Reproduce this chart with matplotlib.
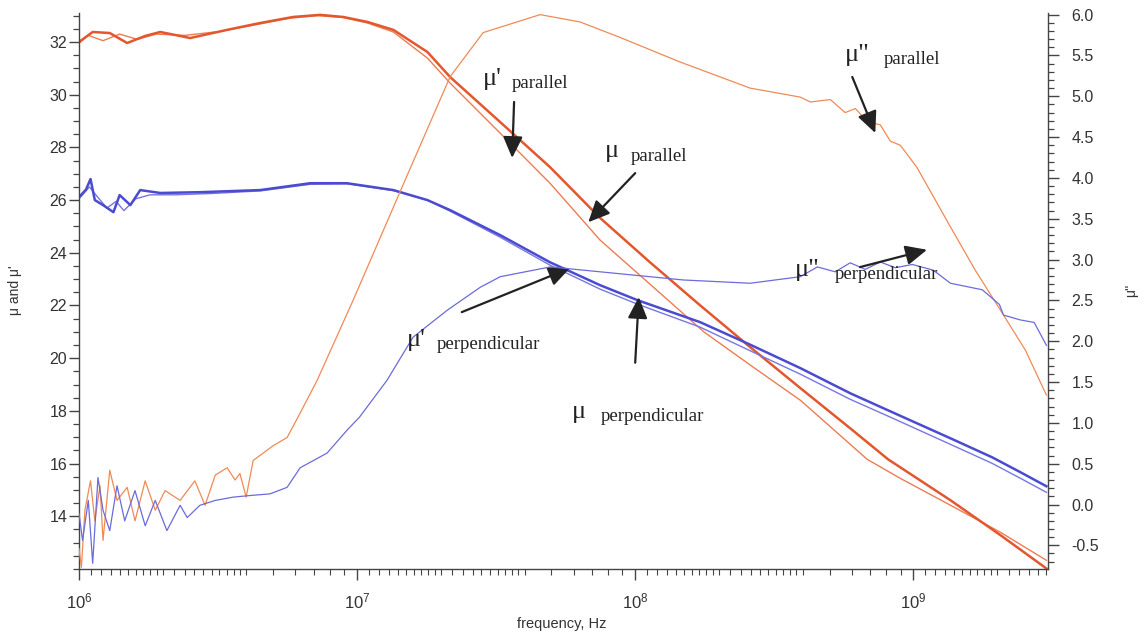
import numpy as np
import matplotlib.pyplot as plt
from matplotlib.ticker import LogLocator, MultipleLocator, LogFormatterMathtext, NullFormatter

plt.rcParams['font.family'] = ['Liberation Sans', 'DejaVu Sans']
plt.rcParams['mathtext.fontset'] = 'custom'
plt.rcParams['mathtext.rm'] = 'Liberation Sans'
plt.rcParams['mathtext.it'] = 'Liberation Sans:italic'

# mu' parallel (thick red), left axis
f_mu1_par = [1.00e6, 1.12e6, 1.29e6, 1.49e6, 1.73e6, 1.96e6, 2.51e6, 3.41e6, 4.48e6, 5.89e6,
             7.36e6, 8.91e6, 1.09e7, 1.35e7, 1.79e7, 2.16e7, 3.27e7, 4.94e7, 7.48e7, 1.13e8,
             1.71e8, 2.57e8, 3.93e8, 5.93e8, 8.12e8, 1.36e9, 2.06e9, 3.01e9]
mu1_par = [32.00, 32.38, 32.34, 31.96, 32.23, 32.38, 32.15, 32.46, 32.72, 32.95,
           33.03, 32.95, 32.76, 32.46, 31.62, 30.67, 28.96, 27.25, 25.32, 23.64,
           22.01, 20.45, 18.86, 17.34, 16.16, 14.61, 13.28, 12.02]

# mu parallel (thin red), left axis
f_mu_par = [1.00e6, 1.08e6, 1.22e6, 1.40e6, 1.62e6, 1.90e6, 2.40e6, 3.20e6, 4.30e6, 5.70e6,
            7.20e6, 8.90e6, 1.09e7, 1.35e7, 1.79e7, 2.16e7, 3.27e7, 4.94e7, 7.48e7, 1.13e8,
            1.77e8, 2.60e8, 3.93e8, 6.83e8, 8.98e8, 1.36e9, 2.06e9, 3.01e9]
mu_par = [31.95, 32.25, 32.05, 32.30, 32.10, 32.30, 32.25, 32.40, 32.65, 32.90,
          33.00, 32.93, 32.72, 32.38, 31.39, 30.44, 28.54, 26.64, 24.48, 22.81,
          20.99, 19.73, 18.40, 16.16, 15.44, 14.42, 13.39, 12.33]

# mu' perpendicular (thick blue), left axis
f_mu1_perp = [1.00e6, 1.06e6, 1.10e6, 1.14e6, 1.22e6, 1.33e6, 1.40e6, 1.53e6, 1.66e6, 1.96e6,
              2.72e6, 4.48e6, 6.78e6, 9.20e6, 1.35e7, 1.79e7, 2.16e7, 3.27e7, 4.94e7, 7.48e7,
              1.02e8, 1.71e8, 2.57e8, 3.93e8, 5.93e8, 8.12e8, 1.36e9, 1.92e9, 2.43e9, 3.01e9]
mu1_perp = [26.11, 26.40, 26.80, 26.00, 25.81, 25.54, 26.19, 25.81, 26.38, 26.27,
            26.30, 26.38, 26.64, 26.64, 26.38, 26.00, 25.62, 24.67, 23.64, 22.77,
            22.20, 21.37, 20.53, 19.62, 18.67, 18.02, 16.96, 16.24, 15.67, 15.14]

# mu perpendicular (thin blue), left axis
f_mu_perp = [1.00e6, 1.04e6, 1.09e6, 1.17e6, 1.26e6, 1.36e6, 1.45e6, 1.60e6, 1.80e6, 2.20e6,
             3.00e6, 4.50e6, 6.80e6, 9.20e6, 1.35e7, 1.79e7, 2.16e7, 3.27e7, 4.94e7, 7.48e7,
             1.02e8, 1.71e8, 2.57e8, 3.93e8, 5.93e8, 8.12e8, 1.36e9, 1.92e9, 2.43e9, 3.01e9]
mu_perp = [26.05, 26.25, 26.50, 26.10, 25.70, 25.95, 25.60, 26.05, 26.20, 26.20,
           26.25, 26.35, 26.60, 26.62, 26.36, 26.00, 25.58, 24.59, 23.53, 22.62,
           22.05, 21.18, 20.30, 19.39, 18.44, 17.80, 16.73, 16.01, 15.44, 14.91]

# mu'' parallel (orange), right axis
f_mu2_par = [1.00e6, 1.02e6, 1.05e6, 1.10e6, 1.14e6, 1.19e6, 1.22e6, 1.29e6, 1.37e6, 1.49e6,
             1.59e6, 1.73e6, 1.88e6, 2.04e6, 2.31e6, 2.61e6, 2.84e6, 3.09e6, 3.41e6, 3.64e6,
             3.79e6, 3.99e6, 4.23e6, 4.99e6, 5.60e6, 6.24e6, 7.18e6, 9.67e6, 1.50e7, 2.16e7,
             2.84e7, 4.55e7, 6.34e7, 8.83e7, 1.45e8, 2.59e8, 3.92e8, 4.26e8, 5.03e8, 5.69e8,
             6.19e8, 6.83e8, 7.61e8, 8.27e8, 8.98e8, 1.03e9, 1.36e9, 1.67e9, 2.04e9, 2.53e9,
             3.01e9]
mu2_par = [-0.54, -0.77, -0.07, 0.29, -0.20, 0.23, -0.44, 0.42, 0.05, 0.21,
           -0.20, 0.29, -0.07, 0.17, 0.05, 0.29, -0.01, 0.36, 0.45, 0.30,
           0.38, 0.09, 0.54, 0.72, 0.82, 1.12, 1.52, 2.50, 4.00, 5.24,
           5.78, 6.00, 5.91, 5.72, 5.42, 5.10, 4.99, 4.93, 4.96, 4.80,
           4.85, 4.69, 4.65, 4.45, 4.40, 4.13, 3.40, 2.87, 2.40, 1.89,
           1.34]

# mu'' perpendicular (blue), right axis
f_mu2_perp = [1.00e6, 1.03e6, 1.08e6, 1.12e6, 1.17e6, 1.22e6, 1.29e6, 1.37e6, 1.46e6, 1.59e6,
              1.73e6, 1.88e6, 2.07e6, 2.31e6, 2.45e6, 2.72e6, 3.09e6, 3.58e6, 4.12e6, 4.86e6,
              5.60e6, 6.24e6, 7.80e6, 9.20e6, 1.02e7, 1.28e7, 1.59e7, 2.11e7, 2.77e7, 3.27e7,
              4.95e7, 7.48e7, 1.49e8, 2.59e8, 3.92e8, 4.52e8, 5.24e8, 5.93e8, 6.72e8, 7.61e8,
              8.62e8, 9.92e8, 1.18e9, 1.36e9, 1.77e9, 2.04e9, 2.11e9, 2.43e9, 2.72e9, 3.01e9]
mu2_perp = [-0.11, -0.44, 0.05, -0.72, 0.33, -0.07, -0.32, 0.23, -0.20, 0.17,
            -0.26, 0.05, -0.32, -0.01, -0.16, -0.01, 0.05, 0.09, 0.11, 0.13,
            0.21, 0.45, 0.63, 0.91, 1.07, 1.52, 2.05, 2.38, 2.66, 2.79,
            2.91, 2.85, 2.75, 2.71, 2.79, 2.91, 2.85, 2.96, 2.88, 2.97,
            2.90, 2.94, 2.87, 2.71, 2.63, 2.45, 2.32, 2.26, 2.23, 1.95]

RED = '#e4572e'
RED_THIN = '#ee7c52'
ORANGE = '#f08a55'
BLUE = '#4b4bd1'
BLUE_THIN = '#7777e0'
BLUE_2 = '#6b6bdc'
INK = '#222222'
AXC = '#444444'

fig = plt.figure(figsize=(11.44, 6.36), dpi=100)
ax = fig.add_axes([79 / 1144, 1 - 569 / 636, 969 / 1144, 556 / 636])
ax2 = ax.twinx()

ax.plot(f_mu_par, mu_par, color=RED_THIN, lw=1.0)
ax.plot(f_mu1_par, mu1_par, color=RED, lw=1.8)
ax.plot(f_mu_perp, mu_perp, color=BLUE_THIN, lw=1.0)
ax.plot(f_mu1_perp, mu1_perp, color=BLUE, lw=1.8)
ax2.plot(f_mu2_par, mu2_par, color=ORANGE, lw=0.9)
ax2.plot(f_mu2_perp, mu2_perp, color=BLUE_2, lw=0.9)

ax.set_xscale('log')
ax.set_xlim(1e6, 3.05e9)
ax.set_ylim(12.0, 33.1)
ax2.set_ylim(-0.79, 6.02)

ax.yaxis.set_minor_locator(MultipleLocator(0.5))
ax2.yaxis.set_minor_locator(MultipleLocator(0.1))
ax2.yaxis.set_major_formatter(plt.FuncFormatter(lambda v, p: f'{v:.1f}'))
ax.set_yticks(np.arange(14, 33, 2))
ax2.set_yticks(np.arange(-0.5, 6.01, 0.5))

subs = [1.1, 1.2, 1.3, 1.4, 1.5, 1.6, 1.7, 1.8, 1.9, 2.0, 2.2, 2.4, 2.6, 2.8,
        3.0, 3.2, 3.4, 3.6, 3.8, 4.0, 5.0, 6.0, 7.0, 8.0, 9.0]
ax.xaxis.set_major_locator(LogLocator(base=10, numticks=10))
ax.xaxis.set_minor_locator(LogLocator(base=10, subs=subs, numticks=40))
ax.xaxis.set_major_formatter(LogFormatterMathtext())
ax.xaxis.set_minor_formatter(NullFormatter())

for a in (ax, ax2):
    a.spines['top'].set_visible(False)
    for s in a.spines.values():
        s.set_color(AXC)
        s.set_linewidth(1.0)
ax.spines['right'].set_visible(False)
ax2.spines['left'].set_visible(False)
ax2.spines['bottom'].set_visible(False)

ax.tick_params(axis='y', which='major', direction='out', length=7, width=1, color=AXC,
               labelsize=11.5, labelcolor='#333333', pad=1.5)
ax.tick_params(axis='y', which='minor', direction='out', length=4, width=0.9, color=AXC)
ax.tick_params(axis='x', which='major', direction='out', length=8, width=1, color=AXC,
               labelsize=12, labelcolor='#333333', pad=8)
ax.tick_params(axis='x', which='minor', direction='out', length=4, width=0.8, color=AXC)
ax2.tick_params(axis='y', which='major', direction='out', length=8, width=1, color=AXC,
                labelsize=11.5, labelcolor='#333333', pad=9)
ax2.tick_params(axis='y', which='minor', direction='out', length=4, width=0.9, color=AXC)

fig.text(15 / 1144, 1 - 290 / 636, "\u03bc and \u03bc'", rotation=90, ha='center', va='center',
         fontsize=10, color='#333333')
fig.text(1131 / 1144, 1 - 290 / 636, "\u03bc''", rotation=90, ha='center', va='center',
         fontsize=10, color='#333333')
fig.text(562 / 1144, 1 - 624 / 636, 'frequency, Hz', ha='center', va='center',
         fontsize=10.5, color='#333333')

serif = ['Liberation Serif', 'DejaVu Serif']
arrow = dict(arrowstyle='-|>,head_length=0.65,head_width=0.3', color=INK, lw=1.6,
             shrinkA=0, shrinkB=0, mutation_scale=20)

# (axis, symbol, symbol pos, word, word pos, arrow tip in data, arrow tail in axes fraction)
notes = [
    (ax, "\u03bc'", (0.417, 0.871), 'parallel', (0.447, 0.865), (3.61e7, 27.6), (0.449, 0.840)),
    (ax, "\u03bc", (0.543, 0.741), 'parallel', (0.569, 0.734), (6.78e7, 25.16), (0.574, 0.712)),
    (ax2, '\u03bc"', (0.790, 0.914), 'parallel', (0.830, 0.908), (7.3e8, 4.55), (0.798, 0.885)),
    (ax2, '\u03bc"', (0.739, 0.527), 'perpendicular', (0.780, 0.521), (1.12e9, 3.12), (0.806, 0.543)),
    (ax, "\u03bc'", (0.338, 0.401), 'perpendicular', (0.369, 0.396), (5.83e7, 23.42), (0.395, 0.462)),
    (ax, "\u03bc", (0.509, 0.271), 'perpendicular', (0.538, 0.266), (1.03e8, 22.32), (0.574, 0.371)),
]
for a, sym, sp, word, wp, tip, tail in notes:
    ax2.text(sp[0], sp[1], sym, transform=ax.transAxes, fontsize=19, family=serif,
             color=INK, va='baseline', ha='left')
    ax2.text(wp[0], wp[1], word, transform=ax.transAxes, fontsize=13.5, family=serif,
             color=INK, va='baseline', ha='left')
    a.annotate('', xy=tip, xycoords='data', xytext=tail, textcoords=ax.transAxes,
               arrowprops=arrow)

fig.savefig('out.png', dpi=100)
